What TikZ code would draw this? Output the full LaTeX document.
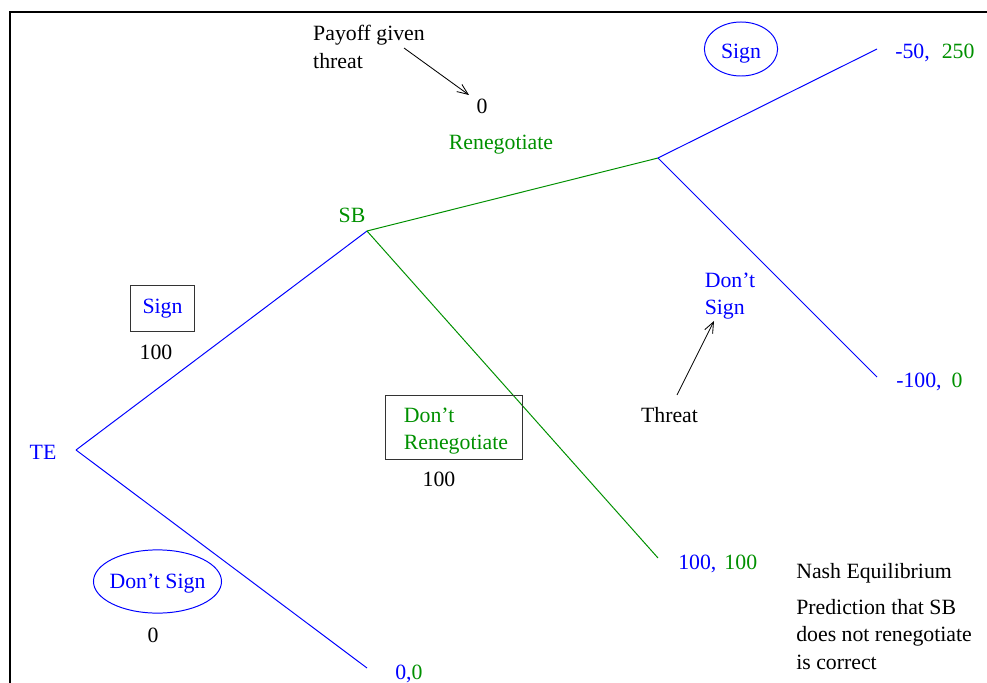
\documentclass[tikz,border=0pt]{standalone}
\usepackage{fontspec}
\setmainfont{Liberation Serif}
\usepackage{xcolor}
\usetikzlibrary{arrows.meta,shapes.geometric}
\definecolor{teblue}{RGB}{0,0,255}
\definecolor{sbgreen}{RGB}{0,144,0}

\begin{document}
\begin{tikzpicture}[x=0.025cm,y=-0.025cm, % une unite = un pixel de la figure
  every node/.style={font=\fontsize{15.5}{19.5}\selectfont,inner sep=0pt},
  branch/.style={line width=0.7pt},
  movebox/.style={draw=black!80,line width=0.7pt},
  choice/.style={draw=teblue,text=teblue,ellipse,line width=0.7pt},
  pointer/.style={line width=0.6pt,-{Straight Barb[length=2.7mm,width=2.2mm]}}]
\useasboundingbox (0,0) rectangle (987,683);
\draw[line width=1.4pt] (10,683)--(10,12)--(987,12); % le cadre

% les sommets de l'arbre
\coordinate (te) at (76,450);
\coordinate (sb) at (367,231);
\coordinate (rn) at (658,158);
\coordinate (signend) at (877,49);
\coordinate (dsend) at (877,377);
\coordinate (drend) at (658,558);
\coordinate (teend) at (367,668);

\draw[branch,teblue]  (te)--(sb);
\draw[branch,teblue]  (te)--(teend);
\draw[branch,sbgreen] (sb)--(rn);
\draw[branch,sbgreen] (sb)--(drend);
\draw[branch,teblue]  (rn)--(signend);
\draw[branch,teblue]  (rn)--(dsend);

% les joueurs
\node[teblue]  (telab) at (43,452) {TE};
\node[sbgreen] (sblab) at (352,215) {SB};

% les coups de TE
\node[movebox,text=teblue,minimum width=1.6cm,minimum height=1.13cm] (signbox) at (162.5,308.5) {Sign};
\node (signpay) at (156,352) {100};
\node[choice,minimum width=3.2cm,minimum height=1.58cm] (dsell) at (157.5,581.5) {\raisebox{-1.8pt}[\height][\depth]{\makebox[0pt]{Don't Sign}}};
\node (dspay) at (153,635) {0};

% les coups de SB
\node[movebox,minimum width=3.42cm,minimum height=1.6cm] (drbox) at (454,427) {};
\node[sbgreen,align=left] (drlab) at (456,431) {Don't\\Renegotiate};
\node (drpay) at (439,479) {100};
\node[sbgreen] (renlab) at (501,145) {Renegotiate};
\node (renpay) at (482,106) {0};
\node[align=left] (payoff) at (369,47) {Payoff given\\threat};
\coordinate (paystart) at (404,48);
\coordinate (paytip) at (469,95);
\draw[pointer] (paystart)--(paytip);

% la menace
\node[choice,minimum width=1.83cm,minimum height=1.35cm] (signell) at (741,49) {\raisebox{-3.6pt}[\height][\depth]{\makebox[0pt]{Sign}}};
\node[teblue,align=left] (dslab) at (730,296) {Don't\\Sign};
\node (threat) at (669.5,415) {Threat};
\coordinate (threatstart) at (677,395);
\coordinate (threattip) at (714,321);
\draw[pointer] (threatstart)--(threattip);

% les gains
\node[anchor=west] (paysign) at (895,53) {\textcolor{teblue}{-50,}\hspace{0.55em}\textcolor{sbgreen}{250}};
\node[anchor=west] (payds) at (896,382) {\textcolor{teblue}{-100,}\hspace{0.45em}\textcolor{sbgreen}{0}};
\node[anchor=west] (paydr) at (678,564) {\textcolor{teblue}{100,}\hspace{0.37em}\textcolor{sbgreen}{100}};
\node[anchor=west] (payte) at (395,674) {\textcolor{teblue}{0,}\textcolor{sbgreen}{0}};

\node[anchor=west] (nash) at (796,573.5) {Nash Equilibrium};
\node[anchor=north west,align=left] (pred) at (796,599) {Prediction that SB\\does not renegotiate\\is correct};
\end{tikzpicture}
\end{document}
